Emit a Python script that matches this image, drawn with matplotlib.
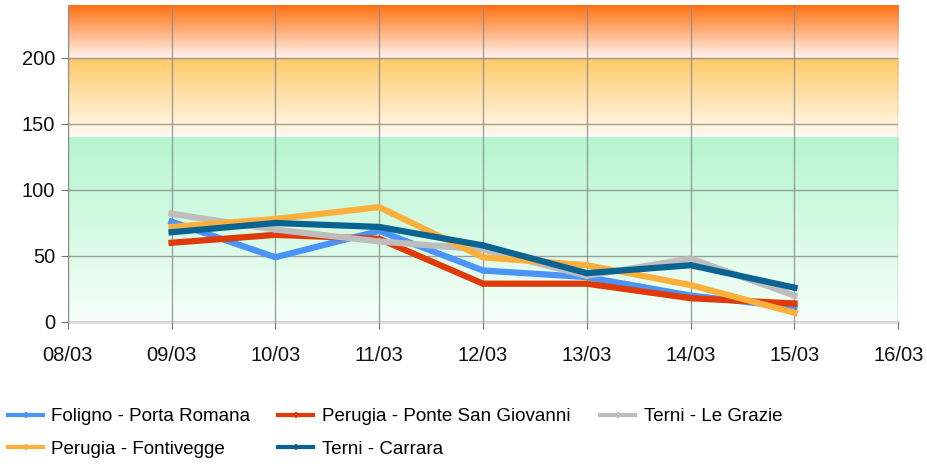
import numpy as np
import matplotlib.pyplot as plt
from matplotlib.colors import LinearSegmentedColormap

plt.rcParams['font.family'] = ['Liberation Sans', 'DejaVu Sans']

dates = ['08/03', '09/03', '10/03', '11/03', '12/03', '13/03', '14/03', '15/03', '16/03']
days = ['09/03', '10/03', '11/03', '12/03', '13/03', '14/03', '15/03']

foligno = [76, 49, 69, 39, 34, 20, 11]
pg_psg = [60, 66, 63, 29, 29, 18, 14]
terni_grazie = [82, 70, 61, 55, 35, 48, 20]
pg_fontivegge = [72, 78, 87, 49, 43, 28, 7]
terni_carrara = [68, 75, 72, 58, 37, 43, 26]

series = [
    ('Foligno - Porta Romana', foligno, '#4a94f5'),
    ('Perugia - Ponte San Giovanni', pg_psg, '#de3a0a'),
    ('Terni - Le Grazie', terni_grazie, '#bdbdbd'),
    ('Perugia - Fontivegge', pg_fontivegge, '#fbb03b'),
    ('Terni - Carrara', terni_carrara, '#0b6391'),
]

fig = plt.figure(figsize=(9.28, 4.68), dpi=100)
ax = fig.add_axes([0.073, 0.312, 0.895, 0.677])

# fasce colorate di sfondo
bands = [
    (0, 140, '#f6fff9', '#b6f5cf'),
    (140, 200, '#fffaf2', '#ffc966'),
    (200, 240, '#fff3ee', '#ff7010'),
]
grad = np.linspace(0, 1, 256).reshape(-1, 1)
for lo, hi, c0, c1 in bands:
    cmap = LinearSegmentedColormap.from_list('b', [c0, c1])
    ax.imshow(grad, extent=[0, 8, lo, hi], origin='lower', aspect='auto',
              cmap=cmap, zorder=0)

x = np.arange(1, 8)
lines = {}
for name, vals, col in series:
    ln, = ax.plot(x, vals, color=col, lw=4.5, marker='+', ms=4, mew=1.5,
                  label=name, zorder=3, solid_joinstyle='miter')
    lines[name] = ln

ax.set_xlim(0, 8)
ax.set_ylim(0, 240)
ax.set_xticks(range(9))
ax.set_xticklabels(dates)
ax.set_yticks([0, 50, 100, 150, 200])
ax.grid(True, color='#8a8a8a', lw=1, alpha=0.8, zorder=1)
ax.set_axisbelow(False)
for s in ['top', 'right']:
    ax.spines[s].set_visible(False)
ax.spines['left'].set_color('#999999')
ax.spines['bottom'].set_color('#dddddd')
ax.spines['bottom'].set_linewidth(2)
ax.tick_params(axis='both', labelsize=14.5, colors='#777777', labelcolor='#111111',
               length=5)
ax.tick_params(axis='y', pad=4)
ax.tick_params(axis='x', pad=12)

# legenda: tre colonne
columns = [
    (0.0086, ['Foligno - Porta Romana', 'Perugia - Fontivegge']),
    (0.3, ['Perugia - Ponte San Giovanni', 'Terni - Carrara']),
    (0.6466, ['Terni - Le Grazie']),
]
for xpos, names in columns:
    leg = fig.legend([lines[n] for n in names], names, loc='upper left',
                     bbox_to_anchor=(xpos, 0.128), frameon=False, fontsize=13.5,
                     handlelength=1.87, handletextpad=0.45, labelspacing=0.82,
                     borderpad=0, borderaxespad=0)
    for h in leg.legend_handles:
        h.set_linewidth(3)

fig.savefig('out.png', dpi=100)
